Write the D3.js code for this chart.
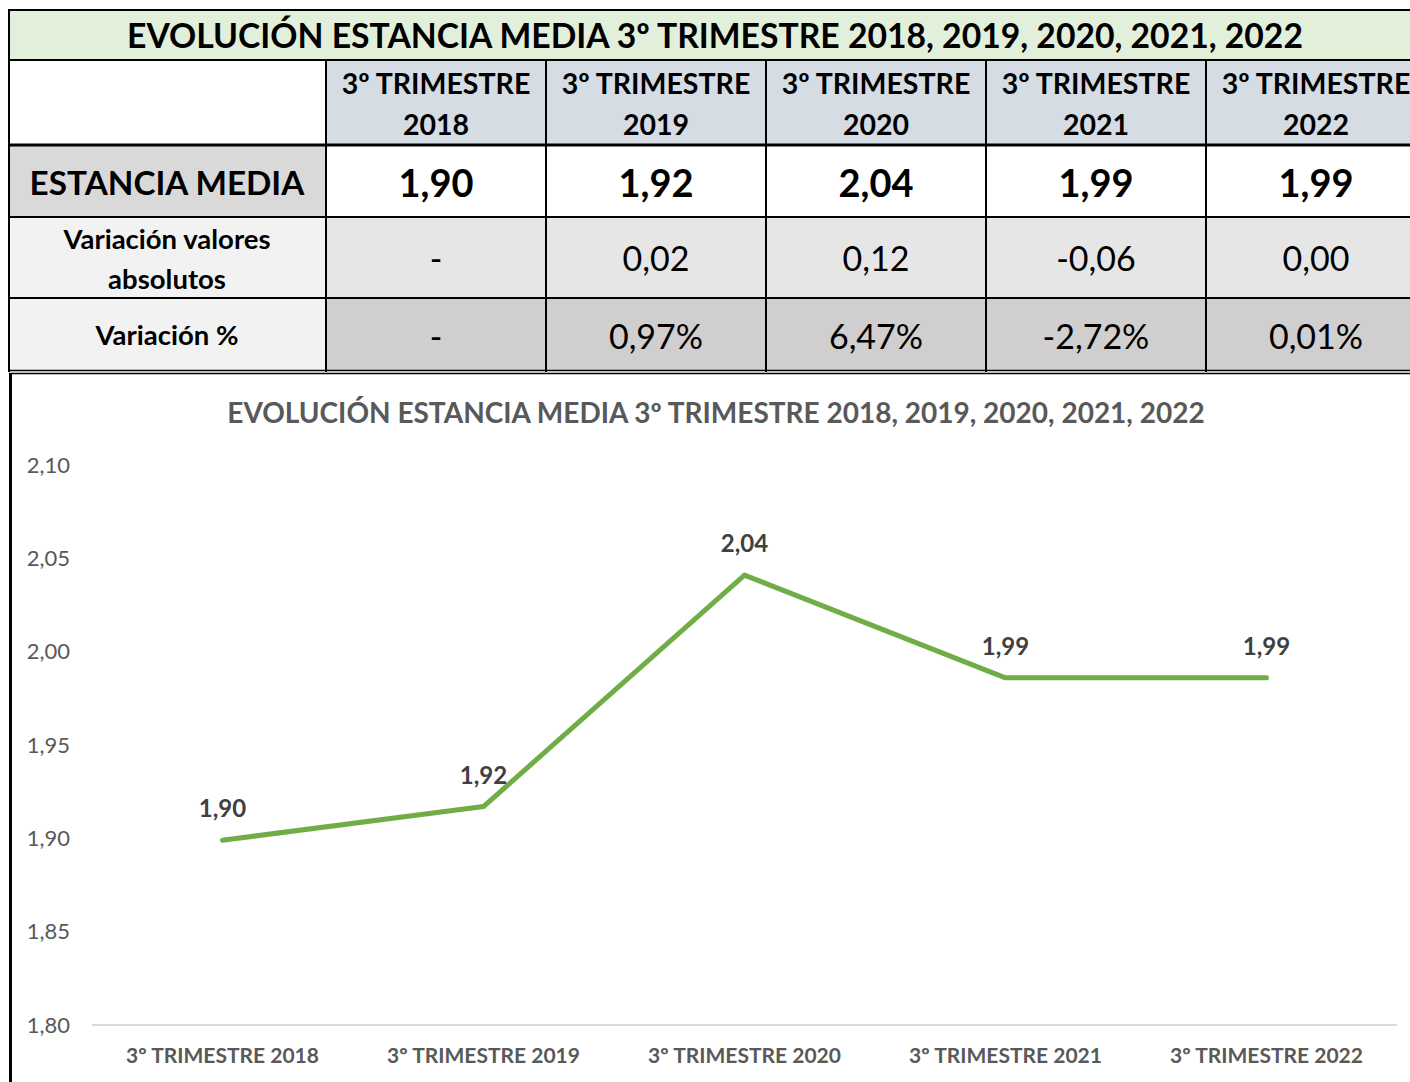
<!DOCTYPE html>
<html>
<head>
<meta charset="utf-8">
<script src="https://cdn.jsdelivr.net/npm/d3@7"></script>
<style>
  body { margin: 0; background: #fff; }
  svg { display: block; font-family: Lato, "Liberation Sans", sans-serif; }
</style>
</head>
<body>
<div id="chart"></div>
<script>
// data
var title = "EVOLUCIÓN ESTANCIA MEDIA 3º TRIMESTRE 2018, 2019, 2020, 2021, 2022";
var periods = ["3º TRIMESTRE 2018", "3º TRIMESTRE 2019", "3º TRIMESTRE 2020", "3º TRIMESTRE 2021", "3º TRIMESTRE 2022"];
var estancia = [1.899, 1.917, 2.041, 1.986, 1.986];
var varAbs = ["-", "0,02", "0,12", "-0,06", "0,00"];
var varPct = ["-", "0,97%", "6,47%", "-2,72%", "0,01%"];
var yTicks = [1.80, 1.85, 1.90, 1.95, 2.00, 2.05, 2.10];

var W = 1410, H = 1082;
var fmt = d => d.toFixed(2).replace(".", ",");

var svg = d3.select("#chart").append("svg")
    .attr("width", W)
    .attr("height", H);

// ---------- table ----------
var colX = d3.scaleBand().domain(d3.range(5)).range([326, 1426]);
var tbl = svg.append("g").attr("class", "table");

var rows = [
    {y0: 60, y1: 145, first: "#ffffff", cell: "#d6dce4"},
    {y0: 145, y1: 217, first: "#d9d9d9", cell: "#ffffff"},
    {y0: 217, y1: 298, first: "#f2f2f2", cell: "#e7e6e6"},
    {y0: 298, y1: 371, first: "#f2f2f2", cell: "#d0cece"}
];

tbl.append("rect").attr("x", 9).attr("y", 10).attr("width", W).attr("height", 50).attr("fill", "#e2efda");
rows.forEach(r => {
    tbl.append("rect").attr("x", 9).attr("y", r.y0).attr("width", 317).attr("height", r.y1 - r.y0).attr("fill", r.first);
    tbl.selectAll(null).data(d3.range(5)).enter().append("rect")
        .attr("x", d => colX(d)).attr("y", r.y0)
        .attr("width", colX.bandwidth()).attr("height", r.y1 - r.y0)
        .attr("fill", r.cell);
});

// grid lines
var ln = (x1, y1, x2, y2, w) => tbl.append("line")
    .attr("x1", x1).attr("y1", y1).attr("x2", x2).attr("y2", y2)
    .attr("stroke", "#000").attr("stroke-width", w);
ln(8, 10, W, 10, 2);
ln(9, 60, W, 60, 2);
ln(9, 145, W, 145, 3);
ln(9, 217, W, 217, 2);
ln(9, 298, W, 298, 2);
ln(9, 370.5, W, 370.5, 1.5);
ln(9, 373.5, W, 373.5, 1.5);
ln(9, 10, 9, 372, 2);
ln(326, 60, 326, 372, 2);
d3.range(1, 5).forEach(i => ln(colX(i), 60, colX(i), 372, 2));

// title row
tbl.append("text").attr("x", 715).attr("y", 48)
    .attr("text-anchor", "middle").attr("font-size", 33.7).attr("font-weight", 700)
    .attr("fill", "#000").text(title);

// header row
var head = tbl.selectAll(".head").data(periods).enter().append("text")
    .attr("class", "head")
    .attr("text-anchor", "middle").attr("font-size", 28.5).attr("font-weight", 700).attr("fill", "#000");
head.append("tspan").attr("x", (d, i) => colX(i) + colX.bandwidth() / 2).attr("y", 94)
    .text(d => d.split(" ").slice(0, 2).join(" "));
head.append("tspan").attr("x", (d, i) => colX(i) + colX.bandwidth() / 2).attr("y", 135)
    .text(d => d.split(" ")[2]);

// row labels
tbl.append("text").attr("x", 167).attr("y", 195).attr("text-anchor", "middle")
    .attr("font-size", 33.3).attr("font-weight", 700).text("ESTANCIA MEDIA");
var lab2 = tbl.append("text").attr("text-anchor", "middle").attr("font-size", 27.5).attr("font-weight", 700);
lab2.append("tspan").attr("x", 167).attr("y", 249).text("Variación valores");
lab2.append("tspan").attr("x", 167).attr("y", 289).text("absolutos");
tbl.append("text").attr("x", 167).attr("y", 345).attr("text-anchor", "middle")
    .attr("font-size", 27.5).attr("font-weight", 700).text("Variación %");

// row values
tbl.selectAll(".v1").data(estancia).enter().append("text")
    .attr("x", (d, i) => colX(i) + colX.bandwidth() / 2).attr("y", 197)
    .attr("text-anchor", "middle").attr("font-size", 38).attr("font-weight", 700)
    .text(fmt);
tbl.selectAll(".v2").data(varAbs).enter().append("text")
    .attr("x", (d, i) => colX(i) + colX.bandwidth() / 2).attr("y", 271)
    .attr("text-anchor", "middle").attr("font-size", 34)
    .text(d => d);
tbl.selectAll(".v3").data(varPct).enter().append("text")
    .attr("x", (d, i) => colX(i) + colX.bandwidth() / 2).attr("y", 349)
    .attr("text-anchor", "middle").attr("font-size", 34)
    .text(d => d);

// ---------- line chart ----------
ln(10.5, 373, 10.5, H, 3);

var x = d3.scaleBand().domain(periods).range([92, 1397]);
var y = d3.scaleLinear().domain([1.8, 2.1]).range([1025, 465]);

var chart = svg.append("g").attr("class", "linechart");

chart.append("text").attr("x", 716).attr("y", 423)
    .attr("text-anchor", "middle").attr("font-size", 28).attr("font-weight", 700)
    .attr("fill", "#595959").text(title);

var yAxis = chart.append("g")
    .attr("transform", "translate(70,0)")
    .call(d3.axisLeft(y).tickValues(yTicks).tickSize(0).tickFormat(fmt));
yAxis.select(".domain").remove();
yAxis.selectAll("text").attr("font-size", 22).attr("fill", "#595959")
    .attr("font-family", "Lato, sans-serif").attr("x", 0);

chart.append("line")
    .attr("x1", 92).attr("x2", 1397).attr("y1", y(1.8)).attr("y2", y(1.8))
    .attr("stroke", "#d9d9d9").attr("stroke-width", 2);

var xAxis = chart.append("g")
    .attr("transform", "translate(0," + y(1.8) + ")")
    .call(d3.axisBottom(x).tickSize(0).tickPadding(23));
xAxis.select(".domain").remove();
xAxis.selectAll("text").attr("font-size", 21).attr("font-weight", 700)
    .attr("fill", "#595959").attr("font-family", "Lato, sans-serif");

var pts = periods.map((p, i) => ({p: p, v: estancia[i]}));
var valueline = d3.line().x(d => x(d.p) + x.bandwidth() / 2).y(d => y(d.v));

chart.append("path").datum(pts)
    .attr("d", valueline)
    .attr("fill", "none").attr("stroke", "#70ad47")
    .attr("stroke-width", 5).attr("stroke-linejoin", "round").attr("stroke-linecap", "round");

chart.selectAll(".lbl").data(pts).enter().append("text")
    .attr("class", "lbl")
    .attr("x", d => x(d.p) + x.bandwidth() / 2)
    .attr("y", d => y(d.v) - 23)
    .attr("text-anchor", "middle").attr("font-size", 24).attr("font-weight", 700)
    .attr("fill", "#404040").text(d => fmt(d.v));
</script>
</body>
</html>
